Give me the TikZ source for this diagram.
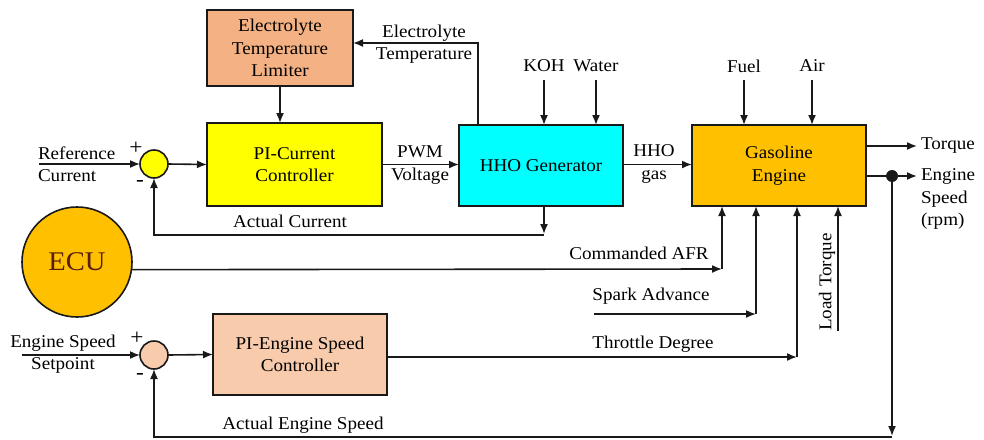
\documentclass[tikz,border=0pt]{standalone}
\usepackage{fontspec}
\setmainfont{Liberation Serif}[FakeStretch=1.06]
\usetikzlibrary{arrows.meta,calc}
\definecolor{cETL}{RGB}{244,177,131}
\definecolor{cYel}{RGB}{255,255,0}
\definecolor{cCyan}{RGB}{0,255,255}
\definecolor{cOrg}{RGB}{255,192,0}
\definecolor{cPeach}{RGB}{248,203,173}
\definecolor{cLine}{RGB}{25,25,25}
\definecolor{cEcuTxt}{RGB}{90,30,10}
\begin{document}
\begin{tikzpicture}[x=1pt,y=-1pt,
  font=\fontsize{18}{22.5}\selectfont,
  every node/.style={inner sep=0pt,outer sep=0pt},
  blk/.style={draw=cLine,line width=1.6pt,minimum width=#1,align=center},
  sumc/.style={draw=cLine,line width=1.6pt,circle,minimum size=28pt},
  conn/.style={draw=cLine,line width=1.6pt},
  arr/.style={conn,-{Latex[length=10pt,width=8pt]}},
  sign/.style={font=\fontsize{22}{24}\selectfont},
  lbl/.style={align=center}]
\useasboundingbox (0,0) rectangle (984,439);
% blocks
\node[blk=146pt,minimum height=76pt,fill=cETL] (etl) at (280,48) {Electrolyte\\Temperature\\Limiter};
\node[blk=175pt,minimum height=83pt,fill=cYel] (pic) at (294.5,164.5) {PI-Current\\Controller};
\node[blk=164pt,minimum height=81pt,fill=cCyan] (hho) at (541,165.5) {HHO Generator};
\node[blk=174pt,minimum height=81pt,fill=cOrg] (eng) at (779,165.5) {Gasoline\\Engine};
\node[blk=174pt,minimum height=81pt,fill=cPeach] (pie) at (300,354.5) {PI-Engine Speed\\Controller};
\node[draw=cLine,line width=1.6pt,circle,minimum size=110pt,fill=cOrg,text=cEcuTxt,font=\fontsize{27}{30}\selectfont] (ecu) at (77,262) {ECU};
\node[sumc,fill=cYel] (s1) at (154,164) {};
\node[sumc,fill=cPeach] (s2) at (154,355) {};
% free ends
\coordinate (refin) at (39,164);
\coordinate (spin) at (22,355);
\coordinate (kohin) at (544,80);
\coordinate (watin) at (596,80);
\coordinate (fuelin) at (744,80);
\coordinate (airin) at (812,80);
\coordinate (tqout) at (917,146);
\coordinate (spout) at (917,176);
\coordinate (dot) at (892,176);
\coordinate (fb2) at (892,437);
\coordinate (fb1) at (544,235);
\coordinate (etlc) at (478,43);
\coordinate (afrc) at (722,269);
\coordinate (sparkin) at (594,314);
\coordinate (sparkc) at (756,314);
\coordinate (thrc) at (797,357);
\coordinate (ldin) at (838,331);
% current loop
\draw[arr] (refin) -- (s1.west);
\draw[arr] (s1.east) -- (pic.west);
\draw[arr] (pic.east) -- (pic.east -| hho.west);
\draw[arr] (hho.north -| etlc) -- (etlc) -- (etlc -| etl.east);
\draw[arr] (etl.south) -- (etl.south |- pic.north);
\draw[arr] (kohin) -- (kohin |- hho.north);
\draw[arr] (watin) -- (watin |- hho.north);
\draw[arr] (hho.south -| fb1) -- ([yshift=1pt]fb1);
\draw[arr] (fb1) -| (s1.south);
% engine
\draw[arr] (hho.east |- pic.east) -- (pic.east -| eng.west);
\draw[arr] (fuelin) -- (fuelin |- eng.north);
\draw[arr] (airin) -- (airin |- eng.north);
\draw[arr] (eng.east |- tqout) -- (tqout);
\draw[arr] (eng.east |- spout) -- (spout);
\fill[cLine] (dot) circle (6pt);
\draw[arr] (dot) -- ([yshift=1pt]fb2);
\draw[arr] (fb2) -| (s2.south);
% ECU and inputs
\draw[arr] (ecu.-8) -- (afrc);
\draw[arr] (afrc) -- (afrc |- eng.south);
\draw[arr] (sparkin) -- (sparkc);
\draw[arr] (sparkc) -- (sparkc |- eng.south);
\draw[arr] (pie.east |- thrc) -- (thrc);
\draw[arr] (thrc) -- (thrc |- eng.south);
\draw[arr] (ldin) -- (ldin |- eng.south);
% speed loop
\draw[arr] (spin) -- (s2.west);
\draw[arr] (s2.east) -- (pie.west);
% labels
\node[lbl,anchor=west,align=left] (lref) at (38,164) {Reference\\Current};
\node[sign] (p1) at (136,148) {+};
\node[sign] (m1) at (140,183) {-};
\node[lbl] (lpwm) at (420,165) {PWM\\Voltage};
\node[lbl] (let) at (424,44) {Electrolyte\\Temperature};
\node (lac) at (290,221) {Actual Current};
\node (lkoh) at (544,66) {KOH};
\node (lwat) at (596,66) {Water};
\node (lfuel) at (744,66) {Fuel};
\node (lair) at (812,66) {Air};
\node[lbl] (lhho) at (654,164) {HHO\\gas};
\node[anchor=west] (ltq) at (921,146) {Torque};
\node[anchor=west,align=left] (lsp) at (921,199) {Engine\\Speed\\(rpm)};
\node (lafr) at (639,253) {Commanded AFR};
\node (lspark) at (651,296) {Spark Advance};
\node (lthr) at (653,344) {Throttle Degree};
\node[rotate=90] (lload) at (827,282) {Load Torque};
\node[lbl] (lsps) at (63,354) {Engine Speed\\Setpoint};
\node[sign] (p2) at (137,338) {+};
\node[sign] (m2) at (140,376) {-};
\node (laes) at (303,425) {Actual Engine Speed};
\end{tikzpicture}
\end{document}
